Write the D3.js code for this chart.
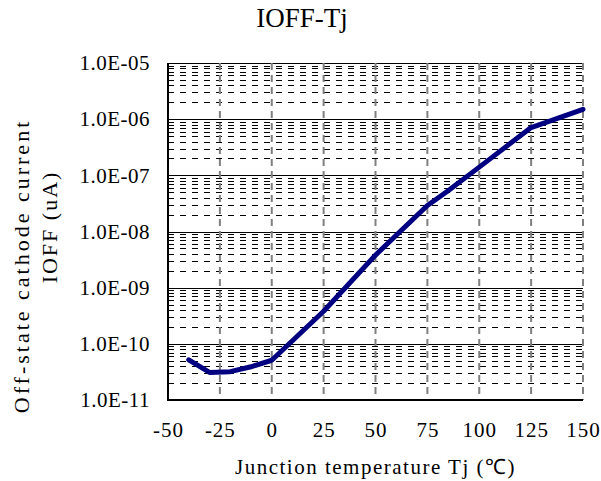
<!DOCTYPE html>
<html>
<head>
<meta charset="utf-8">
<script src="https://cdn.jsdelivr.net/npm/d3@7"></script>
<style>
  body { margin: 0; background: #fff; }
  svg text { font-family: "Liberation Serif", "Times New Roman", serif; fill: #000; }
  .axis .domain { display: none; }
</style>
</head>
<body>
<div id="chart"></div>
<script>
"use strict";

// values
var temps = [-40, -30, -20, -10, 0, 25, 50, 75, 85, 100, 125, 150],
  ioff = [5.2e-11, 3.1e-11, 3.2e-11, 3.9e-11, 5.1e-11, 3.8e-10, 3.8e-9, 2.9e-8, 5.3e-8, 1.4e-7, 7.1e-7, 1.5e-6],
  xTicks = [-50, -25, 0, 25, 50, 75, 100, 125, 150],
  yTicks = [1e-11, 1e-10, 1e-9, 1e-8, 1e-7, 1e-6, 1e-5]
;

let data = temps.map(function(t, i) { return {t: t, v: ioff[i]}; });

let W = 601, H = 481,
  margin = {top: 63, right: 18, bottom: 81, left: 168},
  width = W - margin.left - margin.right,
  height = H - margin.top - margin.bottom
;

let svg = d3.select("#chart").append("svg").attr("width", W).attr("height", H),
  g = svg.append("g").attr("transform", "translate(" + margin.left + "," + margin.top + ")"),
  x = d3.scaleLinear().domain([-50, 150]).range([0, width]),
  y = d3.scaleLog().domain([1e-11, 1e-5]).range([height, 0])
;

// minor horizontal grid (2..9 of each decade)
let minor = [];
yTicks.slice(0, -1).forEach(function(d) {
  for (let k = 2; k <= 9; k++) minor.push(d * k);
});

g.append("g").selectAll("line").data(minor).enter().append("line")
  .attr("x1", 0).attr("x2", width)
  .attr("y1", function(d) { return Math.round(y(d)) + 0.5; }).attr("y2", function(d) { return Math.round(y(d)) + 0.5; })
  .attr("stroke", "#000").attr("stroke-width", 1)
  .attr("stroke-dasharray", "6,6");

// major decade lines
g.append("g").selectAll("line").data(yTicks).enter().append("line")
  .attr("x1", 0).attr("x2", width)
  .attr("y1", function(d) { return Math.round(y(d)) + 0.5; }).attr("y2", function(d) { return Math.round(y(d)) + 0.5; })
  .attr("stroke", "#000").attr("stroke-width", 1);

// vertical grid
g.append("g").selectAll("line").data(xTicks.slice(1)).enter().append("line")
  .attr("x1", function(d) { return x(d); }).attr("x2", function(d) { return x(d); })
  .attr("y1", 0).attr("y2", height)
  .attr("stroke", "#808080").attr("stroke-width", 2)
  .attr("stroke-dasharray", "7,5");

// left and bottom axis lines
g.append("line").attr("x1", 0).attr("x2", 0).attr("y1", 0).attr("y2", height + 1)
  .attr("stroke", "#000").attr("stroke-width", 2);
g.append("line").attr("x1", -1).attr("x2", width).attr("y1", height).attr("y2", height)
  .attr("stroke", "#000").attr("stroke-width", 2);

// axes labels
g.append("g")
  .attr("class", "axis")
  .call(d3.axisLeft(y).tickValues(yTicks).tickSize(0).tickPadding(18)
    .tickFormat(function(d) {
      let e = Math.round(Math.log10(d));
      return "1.0E" + (e < 0 ? "-" : "+") + String(Math.abs(e)).padStart(2, "0");
    }))
  .selectAll("text").style("font-size", "21px").style("letter-spacing", "0.5px");

g.append("g")
  .attr("class", "axis")
  .attr("transform", "translate(0," + height + ")")
  .call(d3.axisBottom(x).tickValues(xTicks).tickSize(0).tickPadding(22)
    .tickFormat(function(d) { return String(d); }))
  .selectAll("text").style("font-size", "21px").style("letter-spacing", "1px");

// curve
g.append("path")
  .datum(data)
  .attr("fill", "none")
  .attr("stroke", "#000080")
  .attr("stroke-width", 5)
  .attr("stroke-linejoin", "round")
  .attr("stroke-linecap", "round")
  .attr("d", d3.line().x(function(d) { return x(d.t); }).y(function(d) { return y(d.v); }));

// titles
svg.append("text")
  .attr("x", 302).attr("y", 27)
  .attr("text-anchor", "middle")
  .style("font-size", "27px")
  .text("IOFF-Tj");

svg.append("text")
  .attr("x", margin.left + width / 2).attr("y", 474)
  .attr("text-anchor", "middle")
  .style("font-size", "21px")
  .style("letter-spacing", "1.5px")
  .text("Junction temperature Tj (℃)");

svg.append("text")
  .attr("transform", "translate(29,266) rotate(-90)")
  .attr("text-anchor", "middle")
  .style("font-size", "22px")
  .style("letter-spacing", "3px")
  .text("Off-state cathode current");

svg.append("text")
  .attr("transform", "translate(57,227) rotate(-90)")
  .attr("text-anchor", "middle")
  .style("font-size", "22px")
  .style("letter-spacing", "2px")
  .text("IOFF (uA)");
</script>
</body>
</html>
